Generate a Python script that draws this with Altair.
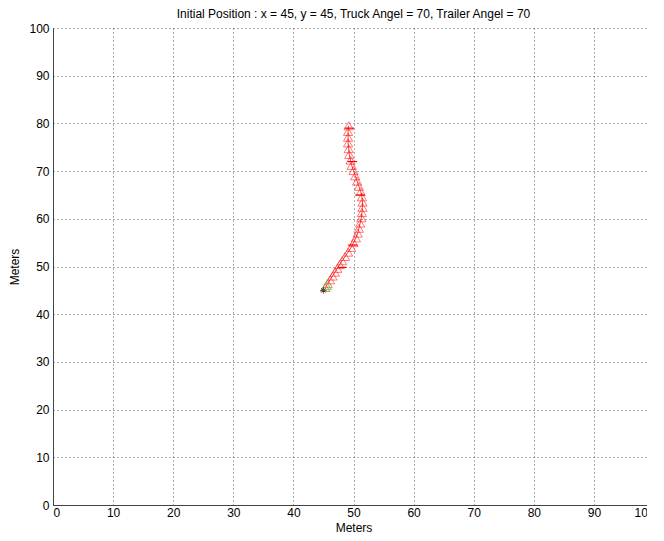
import altair as alt
import pandas as pd

# Truck trajectory (triangle markers)
path_x = [45.3, 45.7, 46.1, 46.5, 46.9, 47.3, 47.7, 48.1, 48.6, 49.1, 49.6, 50.0, 50.4,
          50.7, 50.9, 51.1, 51.3, 51.4, 51.5, 51.5, 51.4, 51.2, 50.9, 50.6, 50.3, 50.0,
          49.7, 49.5, 49.3, 49.2, 49.1, 49.1, 49.1, 49.2]
path_y = [45.6, 46.4, 47.2, 48.0, 48.8, 49.6, 50.4, 51.2, 52.1, 53.0, 54.0, 55.0, 56.0,
          57.0, 58.0, 59.1, 60.2, 61.3, 62.4, 63.5, 64.6, 65.7, 66.8, 67.9, 69.0, 70.1,
          71.2, 72.3, 73.5, 74.7, 75.9, 77.1, 78.3, 79.5]

# short horizontal bars drawn along the path
bar_y = [49.8, 54.5, 65.0, 72.0, 79.0]
bar_x1 = [47.4, 49.1, 50.3, 49.0, 48.5]
bar_x2 = [48.8, 50.7, 51.9, 50.6, 50.1]

start_x = [45.5]
start_y = [46.0]
origin_x = [45]
origin_y = [45]

title = "Initial Position : x = 45, y = 45, Truck Angel = 70, Trailer Angel = 70"

df = pd.DataFrame({"x": path_x, "y": path_y, "order": list(range(len(path_x)))})
bars = pd.DataFrame({"y": bar_y, "x1": bar_x1, "x2": bar_x2})
start = pd.DataFrame({"x": start_x, "y": start_y})
origin = pd.DataFrame({"x": origin_x, "y": origin_y})

xs = alt.Scale(domain=[0, 100], nice=False)
ys = alt.Scale(domain=[0, 100], nice=False)
vals = list(range(0, 101, 10))

xax = alt.Axis(values=vals, title="Meters", grid=True, tickSize=0, labelPadding=2,
               titlePadding=4)
yax = alt.Axis(values=vals, title="Meters", grid=True, tickSize=0, labelPadding=4,
               titlePadding=7)

line = alt.Chart(df).mark_line(color="red", strokeWidth=0.8).encode(
    x=alt.X("x:Q", scale=xs, axis=xax),
    y=alt.Y("y:Q", scale=ys, axis=yax),
    order="order:Q",
)
tri = alt.Chart(df).mark_point(shape="triangle-up", filled=False, color="red",
                               size=85, strokeWidth=0.7, opacity=0.75).encode(
    x=alt.X("x:Q", scale=xs), y=alt.Y("y:Q", scale=ys))
rules = alt.Chart(bars).mark_rule(color="red", strokeWidth=1.2).encode(
    x=alt.X("x1:Q", scale=xs), x2="x2:Q", y=alt.Y("y:Q", scale=ys))
st = alt.Chart(start).mark_point(shape="triangle-up", filled=False, color="#44dd44",
                                 size=90, strokeWidth=1.3).encode(
    x=alt.X("x:Q", scale=xs), y=alt.Y("y:Q", scale=ys))
star = "M-1,0L1,0M0,-1L0,1M-0.7,-0.7L0.7,0.7M-0.7,0.7L0.7,-0.7"
og = alt.Chart(origin).mark_point(shape=star, filled=False, color="black",
                                  size=40, strokeWidth=1).encode(
    x=alt.X("x:Q", scale=xs), y=alt.Y("y:Q", scale=ys))

chart = alt.layer(line, tri, rules, st, og).properties(
    width=601, height=477,
    title=alt.Title(title, fontSize=12, font="Liberation Sans", fontWeight="normal",
                    color="black", offset=1),
    padding={"left": 0, "top": 0, "right": -8, "bottom": 0},
).configure_axis(
    labelFont="Liberation Sans", labelFontSize=12, labelColor="black",
    titleFont="Liberation Sans", titleFontSize=12, titleFontWeight="normal",
    titleColor="black",
    gridColor="#333333", gridDash=[1, 3], gridOpacity=0.8, gridWidth=1,
    domainColor="#444444", domainWidth=1,
).configure_view(stroke=None)

chart.save("out.html", embed_options={"renderer": "svg", "actions": False})
